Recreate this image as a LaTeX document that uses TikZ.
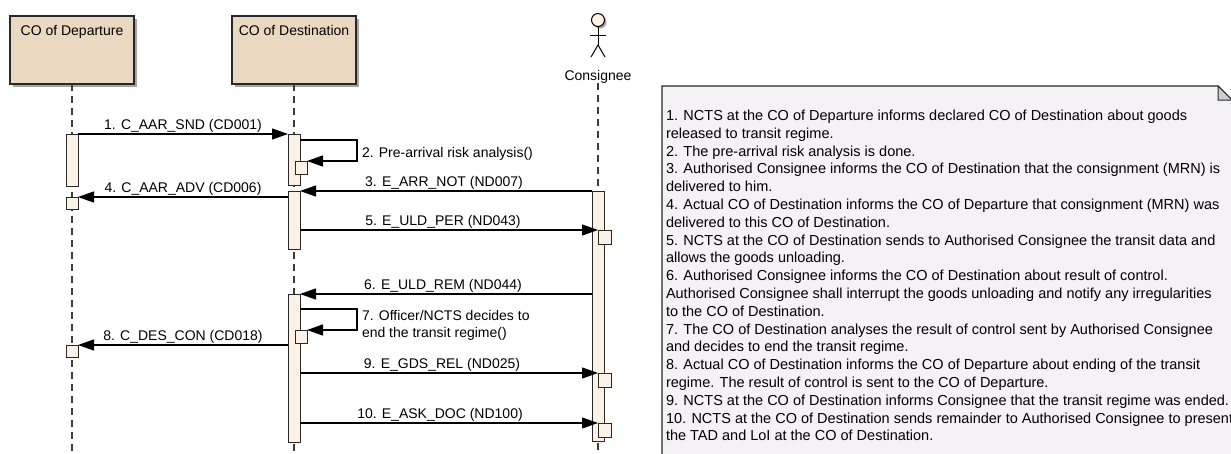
\documentclass[tikz,border=0pt]{standalone}
\usepackage{fontspec}
\setmainfont{Liberation Sans}
\usetikzlibrary{arrows.meta,shadows,calc}
\definecolor{boxfill}{RGB}{233,217,192}
\definecolor{actfill}{RGB}{251,241,228}
\definecolor{notefill}{RGB}{245,242,246}
\definecolor{foldfill}{RGB}{205,205,212}
\definecolor{edge}{RGB}{40,40,40}
\definecolor{lifegray}{RGB}{60,60,60}
\definecolor{shadowgray}{RGB}{165,165,165}
\begin{document}
\begin{tikzpicture}[x=1pt,y=-1pt,
  every node/.style={inner sep=0pt, outer sep=0pt},
  lbl/.style={font=\fontsize{14}{17}\selectfont},
  notetext/.style={font=\fontsize{14.5}{17.8}\selectfont, align=left},
  headbox/.style={draw=edge, line width=1.2pt, fill=boxfill, minimum width=124pt, minimum height=68pt, anchor=north,
    general shadow={fill=shadowgray, shadow xshift=3pt, shadow yshift=-3pt}},
  act/.style={draw=edge, line width=1pt, fill=actfill, minimum width=12pt, anchor=north},
  smallact/.style={draw=edge, line width=1pt, fill=actfill, minimum width=13pt, anchor=north},
  lifeline/.style={draw=lifegray, line width=1.2pt, dash pattern=on 7pt off 5pt},
  msg/.style={draw=black, line width=1.2pt, -{Triangle[length=16pt,width=11pt]}},
  plain/.style={draw=black, line width=1.2pt},
]
\useasboundingbox (0,0) rectangle (1231,453);

% ---------- note ----------
\fill[notefill] (662,86) -- (1218,86) -- (1232,100) -- (1232,470) -- (662,470) -- cycle;
\draw[edge, line width=1.2pt] (662,470) -- (662,86) -- (1218,86) -- (1232,100);
\filldraw[fill=foldfill, draw=edge, line width=1pt] (1218,86) -- (1218,100) -- (1232,100) -- cycle;
\node[notetext, anchor=north west] (note) at (666,110) {1. NCTS at the CO of Departure informs declared CO of Destination about goods\\
released to transit regime.\\
2. The pre-arrival risk analysis is done.\\
3. Authorised Consignee informs the CO of Destination that the consignment (MRN) is\\
delivered to him.\\
4. Actual CO of Destination informs the CO of Departure that consignment (MRN) was\\
delivered to this CO of Destination.\\
5. NCTS at the CO of Destination sends to Authorised Consignee the transit data and\\
allows the goods unloading.\\
6. Authorised Consignee informs the CO of Destination about result of control.\\
Authorised Consignee shall interrupt the goods unloading and notify any irregularities\\
to the CO of Destination.\\
7. The CO of Destination analyses the result of control sent by Authorised Consignee\\
and decides to end the transit regime.\\
8. Actual CO of Destination informs the CO of Departure about ending of the transit\\
regime. The result of control is sent to the CO of Departure.\\
9. NCTS at the CO of Destination informs Consignee that the transit regime was ended.\\
10. NCTS at the CO of Destination sends remainder to Authorised Consignee to present\\
the TAD and LoI at the CO of Destination.};

% ---------- lifeline heads ----------
\node[headbox] (dep) at (72,16) {};
\node[lbl, anchor=base] (depT) at (72,35) {CO of Departure};
\node[headbox] (dst) at (294,16) {};
\node[lbl, anchor=base] (dstT) at (294,35) {CO of Destination};

% actor
\fill[shadowgray] (600,22) circle (6.5);
\node[circle, draw=black, line width=1pt, fill=actfill, minimum size=13pt] (chead) at (598,20) {};
\coordinate (chip) at (598,45);
\draw[plain, line width=1pt] (chead.south) -- (chip);
\coordinate (carmL) at (590,35);
\coordinate (carmR) at (606,35);
\draw[plain, line width=1pt] (carmL) -- (carmR);
\coordinate (clegL) at (591,57);
\coordinate (clegR) at (605,57);
\draw[plain, line width=1pt] (clegL) -- (chip) -- (clegR);
\node[lbl, anchor=base] (cons) at (598,80) {Consignee};

% ---------- lifelines ----------
\coordinate (depEnd) at (72,453);
\coordinate (dstEnd) at (294,453);
\coordinate (consTop) at (598,83);
\coordinate (consEnd) at (598,453);
\draw[lifeline] (dep.south) -- (depEnd);
\draw[lifeline] (dst.south) -- (dstEnd);
\draw[lifeline] (consTop) -- (consEnd);

% ---------- activations ----------
\node[act, minimum height=52pt] (dA) at (72,134) {};
\node[act, minimum height=12pt] (dB) at (72,197) {};
\node[act, minimum height=12pt] (dC) at (72,345) {};
\node[act, minimum height=51pt] (xA) at (294,134) {};
\node[act, minimum height=13pt] (xS1) at (301,161) {};
\node[act, minimum height=58pt] (xB) at (294,191) {};
\node[act, minimum height=148pt] (xC) at (294,294) {};
\node[act, minimum height=13pt] (xS2) at (301,330) {};
\node[act, minimum height=250pt] (cA) at (598,191) {};
\node[smallact, minimum height=14pt] (cS1) at (604.5,230) {};
\node[smallact, minimum height=14pt] (cS2) at (604.5,373) {};
\node[smallact, minimum height=14pt] (cS3) at (604.5,423) {};

% ---------- messages ----------
\draw[msg] (dA.north east) -- (xA.north west)
  node[lbl, midway, anchor=base, yshift=5pt] (m1) {1. C\_AAR\_SND (CD001)};
\draw[msg] ($(xA.north east)+(0,6)$) -- ++(57,0) |- (xS1.north east);
\node[lbl, anchor=base west] (m2) at (362,157) {2. Pre-arrival risk analysis()};
\draw[msg] (cA.north west) -- (xB.north east)
  node[lbl, midway, anchor=base, yshift=5pt, xshift=-2pt] (m3) {3. E\_ARR\_NOT (ND007)};
\draw[msg] (xB.west |- dB.north east) -- (dB.north east)
  node[lbl, midway, anchor=base, yshift=5pt] (m4) {4. C\_AAR\_ADV (CD006)};
\draw[msg] (xB.east |- cS1.north west) -- (cS1.north west)
  node[lbl, midway, anchor=base, yshift=5pt, xshift=-6pt] (m5) {5. E\_ULD\_PER (ND043)};
\draw[msg] (cA.west |- xC.north east) -- (xC.north east)
  node[lbl, midway, anchor=base, yshift=5pt, xshift=-3pt] (m6) {6. E\_ULD\_REM (ND044)};
\draw[msg] ($(xC.north east)+(0,15)$) -- ++(57,0) |- (xS2.north east);
\node[lbl, align=left, anchor=north west] (m7) at (362,310) {7. Officer/NCTS decides to\\end the transit regime()};
\draw[msg] (xC.west |- dC.north east) -- (dC.north east)
  node[lbl, midway, anchor=base, yshift=5pt] (m8) {8. C\_DES\_CON (CD018)};
\draw[msg] (xC.east |- cS2.north west) -- (cS2.north west)
  node[lbl, midway, anchor=base, yshift=5pt, xshift=-7pt] (m9) {9. E\_GDS\_REL (ND025)};
\draw[msg] (xC.east |- cS3.north west) -- (cS3.north west)
  node[lbl, midway, anchor=base, yshift=5pt, xshift=-9pt] (m10) {10. E\_ASK\_DOC (ND100)};
\end{tikzpicture}
\end{document}
